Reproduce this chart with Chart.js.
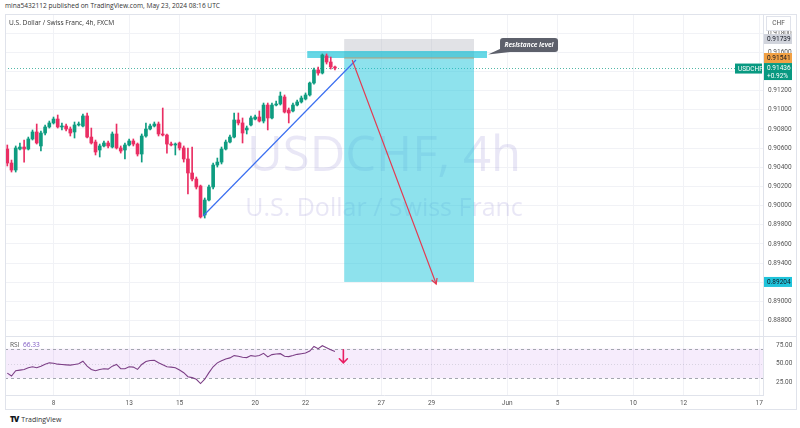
<!DOCTYPE html>
<html><head><meta charset="utf-8">
<script src="https://cdn.jsdelivr.net/npm/chart.js@4.4.1/dist/chart.umd.min.js"></script>
<style>
html,body{margin:0;padding:0;background:#fff;width:800px;height:428px;overflow:hidden;font-family:"Open Sans",Roboto,sans-serif;}
#hdr{position:absolute;left:5px;top:1px;font-size:6.6px;color:#333;white-space:nowrap;}
#main{position:absolute;left:5px;top:14px;}
#rsi{position:absolute;left:5px;top:336px;}
#frame{position:absolute;left:5px;top:14px;width:792px;height:396px;border:1px solid #e0e3eb;box-sizing:border-box;pointer-events:none;}
#foot{position:absolute;left:10px;top:413px;font-size:7px;color:#333;white-space:nowrap;}
#foot b{font-size:8px;font-weight:900;letter-spacing:-1px;margin-right:3px;color:#131722;}
</style></head>
<body>
<div id="hdr">mina5432112 published on TradingView.com, May 23, 2024 08:16 UTC</div>
<canvas id="main" width="792" height="322"></canvas>
<canvas id="rsi" width="792" height="74"></canvas>
<div id="frame"></div>
<div id="foot"><b>TV</b>TradingView</div>
<script>
// ---------- data ----------
const tickLabels = ['8','13','15','20','22','27','29','Jun','5','10','12','17'];
const tickBars   = [11,29,41,59,71,89,101,119,131,149,161,179];
const priceTicks = [0.888,0.890,0.892,0.894,0.896,0.898,0.900,0.902,0.904,0.906,0.908,0.910,0.912,0.914,0.916,0.918];
const rsiTicks = [25,50,75];

const opens = [
.90591,.90445,.90372,.90591,.90612,.90591,.90696,.90769,.90623,.90758,
.90821,.90863,.90904,.90821,.90831,.90800,.90769,.90842,.90831,.90936,
.90716,.90664,.90581,.90623,.90654,.90612,.90748,.90602,.90581,.90633,
.90675,.90643,.90539,.90727,.90800,.90831,.90852,.90748,.90737,.90643,
.90633,.90654,.90602,.90487,.90341,.90278,.90205,.89903,.90059,.90195,
.90424,.90455,.90591,.90664,.90716,.90894,.90863,.90790,.90842,.90904,
.90925,.90883,.91050,.90915,.91050,.91061,.91134,.90998,.90988,.91050,
.91082,.91113,.91155,.91280,.91416,.91384,.91562,.91499,.91447];
const highs = [
.90633,.90476,.90623,.90654,.90685,.90716,.90790,.90852,.90779,.90842,
.90883,.90925,.90946,.90863,.90852,.90821,.90873,.90873,.90956,.90967,
.90810,.90685,.90643,.90675,.90675,.90769,.90852,.90623,.90654,.90696,
.90696,.90654,.90748,.90863,.90852,.90873,.90873,.91019,.90748,.90664,
.90654,.90664,.90623,.90602,.90612,.90299,.90215,.90080,.90215,.90445,
.90497,.90612,.90685,.90737,.90967,.90967,.90915,.90831,.90936,.90946,
.90988,.91071,.91071,.91071,.91092,.91186,.91155,.91019,.91071,.91103,
.91144,.91176,.91290,.91436,.91447,.91583,.91583,.91551,.91457];
const lows = [
.90414,.90351,.90351,.90581,.90455,.90581,.90685,.90643,.90570,.90737,
.90810,.90852,.90810,.90790,.90779,.90727,.90706,.90831,.90821,.90706,
.90643,.90529,.90508,.90612,.90602,.90602,.90591,.90549,.90487,.90623,
.90623,.90518,.90455,.90716,.90790,.90821,.90727,.90727,.90549,.90623,
.90529,.90581,.90455,.90122,.90257,.90174,.89871,.89871,.90049,.90174,
.90403,.90435,.90581,.90654,.90706,.90842,.90654,.90748,.90831,.90894,
.90873,.90863,.90790,.90904,.91040,.91050,.90967,.90863,.90977,.91040,
.91071,.91103,.91144,.91269,.91363,.91374,.91478,.91426,.91416];
const closes = [
.90445,.90372,.90602,.90612,.90591,.90696,.90769,.90654,.90758,.90821,
.90863,.90904,.90821,.90831,.90800,.90758,.90842,.90852,.90936,.90716,
.90654,.90560,.90623,.90654,.90623,.90748,.90602,.90570,.90633,.90675,
.90643,.90539,.90727,.90800,.90831,.90852,.90748,.90737,.90643,.90633,
.90643,.90602,.90487,.90341,.90278,.90195,.89882,.90059,.90195,.90424,
.90455,.90591,.90664,.90716,.90894,.90863,.90758,.90810,.90915,.90925,
.90883,.91050,.90915,.91050,.91061,.91144,.90977,.90967,.91050,.91082,
.91123,.91155,.91280,.91416,.91384,.91572,.91499,.91447,.91436];
const rsiValues = [
37,33.1,40.2,41.1,42,44.2,45.6,44.2,46.4,49.1,
50.9,50.4,49.1,48.7,48.2,47.8,48.7,49.6,53.1,46.4,
42,40.2,42,42.9,42.4,46.4,48.7,42.9,42.9,45.6,
45.1,42,48.7,52.7,54,54.4,50.9,48.2,45.6,45.1,
44.2,41.1,37.6,32.2,30.9,28.7,22.9,28.7,37.6,45.6,
50.9,53.6,56.2,57.6,60.7,59.8,58.4,58,60.7,59.8,
60.7,63.8,58.9,62,62.9,63.3,59.8,59.3,60.7,62.4,
63.3,64.2,66.9,73.1,70,74,71.3,68.7,66.33];

const trendLine = [{x:46.6,y:0.89892},{x:83.0,y:0.91520}];
const forecastArrow = [{x:82.1,y:0.91520},{x:102.1,y:0.89183}];
const position = {startBar:80.2,endBar:111.1,entry:0.91541,stop:0.91739,target:0.89204};
const resistance = {startBar:71.4,endBar:114.2,top:0.91614,bottom:0.91541,label:'Resistance level'};
const lastPrice = 0.91436, changePct = '+0.92%', symbol = 'USDCHF', currency = 'CHF';
const title = 'U.S. Dollar / Swiss Franc, 4h, FXCM';
const watermark = ['USDCHF, 4h','U.S. Dollar / Swiss Franc'];
const rsiLabel = 'RSI', rsiLast = '66.33';
const rsiArrow = {bar:80, from:68.7, to:51};
const xMin = -0.55, xMax = 179.9;

// ---------- helpers ----------
const UP='#0e9c80', DN='#ea2e63';
const FONT='"Open Sans", Roboto, sans-serif';
const AXF='Roboto, "Open Sans", sans-serif';
const colors = opens.map((o,i)=> closes[i]>=opens[i]?UP:DN);
const idx = opens.map((_,i)=>i);
function noPad(s){ s.paddingTop=0; s.paddingBottom=0; s.paddingLeft=0; s.paddingRight=0; }

const xBase = {
  type:'linear', min:xMin, max:xMax, offset:false,
  grid:{color:'#f1f2f6', drawTicks:false, offset:false},
  border:{display:false},
  afterBuildTicks:s=>{ s.ticks = tickBars.map(v=>({value:v})); }
};

function tag(ctx,x,yc,w,h,bg,fg,lines){
  ctx.fillStyle=bg; ctx.fillRect(x,yc-h/2,w,h);
  ctx.fillStyle=fg; ctx.font='6.5px '+AXF; ctx.textAlign='left'; ctx.textBaseline='middle';
  if(lines.length===1){ ctx.fillText(lines[0],x+3,yc+0.5); }
  else { ctx.fillText(lines[0],x+3,yc-3.5); ctx.fillText(lines[1],x+3,yc+4.5); }
}

const mainDeco = {
  id:'mainDeco',
  beforeDatasetsDraw(chart){
    const {ctx, chartArea:a, scales:{x,y}} = chart;
    ctx.save();
    ctx.beginPath(); ctx.rect(a.left,a.top,a.right-a.left,a.bottom-a.top); ctx.clip();
    // watermark
    ctx.fillStyle='rgba(125,110,200,0.17)';
    ctx.textAlign='center'; ctx.textBaseline='alphabetic';
    const cx=(a.left+a.right)/2;
    ctx.font='49px '+FONT; ctx.fillText(watermark[0],cx,157);
    ctx.font='25px '+FONT; ctx.fillText(watermark[1],cx,202);
    // last price dotted line
    const yl=y.getPixelForValue(lastPrice);
    ctx.strokeStyle='rgba(8,153,129,0.7)'; ctx.lineWidth=1; ctx.setLineDash([1,2]);
    ctx.beginPath(); ctx.moveTo(a.left,Math.round(yl)+0.5); ctx.lineTo(a.right,Math.round(yl)+0.5); ctx.stroke();
    ctx.setLineDash([]);
    // position tool
    const p1=x.getPixelForValue(position.startBar), p2=x.getPixelForValue(position.endBar);
    const ye=y.getPixelForValue(position.entry), ys=y.getPixelForValue(position.stop), yt=y.getPixelForValue(position.target);
    ctx.fillStyle='rgba(175,178,188,0.38)'; ctx.fillRect(p1,ys,p2-p1,ye-ys);
    ctx.fillStyle='rgba(30,198,220,0.5)'; ctx.fillRect(p1,ye,p2-p1,yt-ye);
    // resistance band
    const r1=x.getPixelForValue(resistance.startBar), r2=x.getPixelForValue(resistance.endBar);
    const rt=y.getPixelForValue(resistance.top), rb=y.getPixelForValue(resistance.bottom);
    ctx.fillStyle='rgba(0,188,212,0.6)'; ctx.fillRect(r1,rt,r2-r1,rb-rt);
    // entry line
    ctx.strokeStyle='#b8a079'; ctx.lineWidth=1;
    ctx.beginPath(); ctx.moveTo(p1,ye); ctx.lineTo(p2,ye); ctx.stroke();
    ctx.restore();
  },
  afterDatasetsDraw(chart){
    const {ctx} = chart;
    const meta = chart.getDatasetMeta(3);
    const pA = meta.data[0], pB = meta.data[1];
    const ang = Math.atan2(pB.y-pA.y, pB.x-pA.x);
    ctx.save(); ctx.strokeStyle='#e5384f'; ctx.lineWidth=1.2;
    ctx.beginPath();
    ctx.moveTo(pB.x-6*Math.cos(ang-0.5), pB.y-6*Math.sin(ang-0.5));
    ctx.lineTo(pB.x,pB.y);
    ctx.lineTo(pB.x-6*Math.cos(ang+0.5), pB.y-6*Math.sin(ang+0.5));
    ctx.stroke(); ctx.restore();
  },
  afterDraw(chart){
    const {ctx, chartArea:a, scales:{x,y}} = chart;
    ctx.save();
    // title
    ctx.fillStyle='#333'; ctx.font='6.6px '+FONT; ctx.textAlign='left'; ctx.textBaseline='middle';
    ctx.fillText(title,4,9);
    // callout
    const r2=x.getPixelForValue(resistance.endBar);
    const rt=y.getPixelForValue(resistance.top), rb=y.getPixelForValue(resistance.bottom);
    const bx=r2+13, bw=58, bh=14, by=rt-13;
    ctx.fillStyle='#5d606b';
    ctx.beginPath();
    if(ctx.roundRect) ctx.roundRect(bx,by,bw,bh,3); else ctx.rect(bx,by,bw,bh);
    ctx.fill();
    ctx.beginPath(); ctx.moveTo(bx+2,by+bh-4); ctx.lineTo(bx+10,by+bh); ctx.lineTo(r2+1,(rt+rb)/2); ctx.closePath(); ctx.fill();
    ctx.fillStyle='#fff'; ctx.font='italic bold 6.5px '+FONT; ctx.textAlign='center';
    ctx.fillText(resistance.label,bx+bw/2,by+bh/2+0.5);
    // currency box
    const ax=a.right+3;
    ctx.fillStyle='#fff'; ctx.fillRect(ax,2,24,14);
    ctx.strokeStyle='#e0e3eb'; ctx.strokeRect(ax+0.5,2.5,24,14);
    ctx.fillStyle='#555'; ctx.font='6.5px '+AXF; ctx.textAlign='center';
    ctx.fillText(currency,ax+12.5,9.5);
    // axis tags
    tag(ctx,a.right+1,y.getPixelForValue(position.stop),28,10,'#d1d4dc','#131722',[position.stop.toFixed(5)]);
    tag(ctx,a.right+1,y.getPixelForValue(position.entry),28,10,'#f2a144','#131722',[position.entry.toFixed(5)]);
    tag(ctx,a.right+1,y.getPixelForValue(lastPrice)+3.5,28,17,'#089981','#fff',[lastPrice.toFixed(5),changePct]);
    tag(ctx,a.right+1,y.getPixelForValue(position.target),28,10,'#1fc3da','#131722',[position.target.toFixed(5)]);
    tag(ctx,a.right-28,y.getPixelForValue(lastPrice)+0.5,27,10,'#089981','#fff',[symbol]);
    ctx.restore();
  }
};

new Chart(document.getElementById('main'),{
  type:'bar',
  data:{datasets:[
    {type:'bar', data:idx.map(i=>({x:i,y:[lows[i],highs[i]]})), backgroundColor:colors, barThickness:1, grouped:false, order:4},
    {type:'bar', data:idx.map(i=>({x:i,y:[opens[i],closes[i]]})), backgroundColor:colors, barThickness:3, minBarLength:1, grouped:false, order:3},
    {type:'line', data:trendLine, borderColor:'#3b6ff0', borderWidth:1.2, pointRadius:0, order:1},
    {type:'line', data:forecastArrow, borderColor:'#e5384f', borderWidth:1.1, pointRadius:0, order:0}
  ]},
  options:{
    responsive:false, animation:false, devicePixelRatio:1,
    layout:{padding:0},
    plugins:{legend:{display:false}, tooltip:{enabled:false}},
    scales:{
      x:Object.assign({}, xBase, {ticks:{display:false}, afterFit:s=>{s.height=0; noPad(s);}}),
      y:{position:'right', min:0.8864, max:0.9200,
         grid:{color:'#f1f2f6', drawTicks:false},
         border:{display:true, color:'#e0e3eb'},
         ticks:{padding:5, color:'#555', font:{size:6.5, family:AXF}, callback:v=>Number(v).toFixed(5)},
         afterBuildTicks:s=>{ s.ticks = priceTicks.map(v=>({value:v})); },
         afterFit:s=>{ s.width=34; noPad(s); }}
    }
  },
  plugins:[mainDeco]
});

const rsiDeco = {
  id:'rsiDeco',
  beforeDatasetsDraw(chart){
    const {ctx, chartArea:a, scales:{y}} = chart;
    const y70=y.getPixelForValue(70), y30=y.getPixelForValue(30), y50=y.getPixelForValue(50);
    ctx.save();
    ctx.fillStyle='rgba(190,120,235,0.14)'; ctx.fillRect(a.left,y70,a.right-a.left,y30-y70);
    ctx.strokeStyle='#a3a6af'; ctx.lineWidth=1; ctx.setLineDash([3,3]);
    [y70,y30].forEach(v=>{ctx.beginPath(); ctx.moveTo(a.left,Math.round(v)+0.5); ctx.lineTo(a.right,Math.round(v)+0.5); ctx.stroke();});
    ctx.strokeStyle='rgba(160,163,175,0.35)'; ctx.setLineDash([1,2]);
    ctx.beginPath(); ctx.moveTo(a.left,Math.round(y50)+0.5); ctx.lineTo(a.right,Math.round(y50)+0.5); ctx.stroke();
    ctx.restore();
  },
  afterDatasetsDraw(chart){
    const {ctx, scales:{x,y}} = chart;
    const ax=x.getPixelForValue(rsiArrow.bar), y1=y.getPixelForValue(rsiArrow.from), y2=y.getPixelForValue(rsiArrow.to);
    ctx.save(); ctx.strokeStyle='#e91e63'; ctx.lineWidth=1.6; ctx.lineCap='round';
    ctx.beginPath(); ctx.moveTo(ax,y1); ctx.lineTo(ax,y2);
    ctx.moveTo(ax-4,y2-4); ctx.lineTo(ax,y2); ctx.lineTo(ax+4,y2-4); ctx.stroke();
    ctx.restore();
  },
  afterDraw(chart){
    const {ctx, chartArea:a} = chart;
    ctx.save();
    ctx.strokeStyle='#e0e3eb'; ctx.lineWidth=1;
    ctx.beginPath(); ctx.moveTo(0,0.5); ctx.lineTo(chart.width,0.5); ctx.stroke();
    ctx.font='6.6px '+FONT; ctx.textAlign='left'; ctx.textBaseline='middle';
    ctx.fillStyle='#555'; ctx.fillText(rsiLabel,5,9);
    ctx.fillStyle='#7e57c2'; ctx.fillText(rsiLast,5+ctx.measureText(rsiLabel+'  ').width,9);
    ctx.restore();
  }
};

new Chart(document.getElementById('rsi'),{
  type:'line',
  data:{datasets:[
    {data:idx.map(i=>({x:i,y:rsiValues[i]})), borderColor:'#7c3f86', borderWidth:1.1, pointRadius:0, tension:0}
  ]},
  options:{
    responsive:false, animation:false, devicePixelRatio:1,
    layout:{padding:0},
    plugins:{legend:{display:false}, tooltip:{enabled:false}},
    scales:{
      x:Object.assign({}, xBase, {
        border:{display:true, color:'#e0e3eb'},
        ticks:{padding:4, color:'#555', font:{size:6.5, family:AXF}, autoSkip:false, maxRotation:0,
               callback:(v,i)=>tickLabels[i]},
        afterFit:s=>{ s.height=15; noPad(s); }}),
      y:{position:'right', min:7.4, max:87.2,
         grid:{display:false},
         border:{display:true, color:'#e0e3eb'},
         ticks:{padding:5, color:'#555', font:{size:6.5, family:AXF}, callback:v=>Number(v).toFixed(2)},
         afterBuildTicks:s=>{ s.ticks = rsiTicks.map(v=>({value:v})); },
         afterFit:s=>{ s.width=34; noPad(s); }}
    }
  },
  plugins:[rsiDeco]
});
</script>
</body></html>
